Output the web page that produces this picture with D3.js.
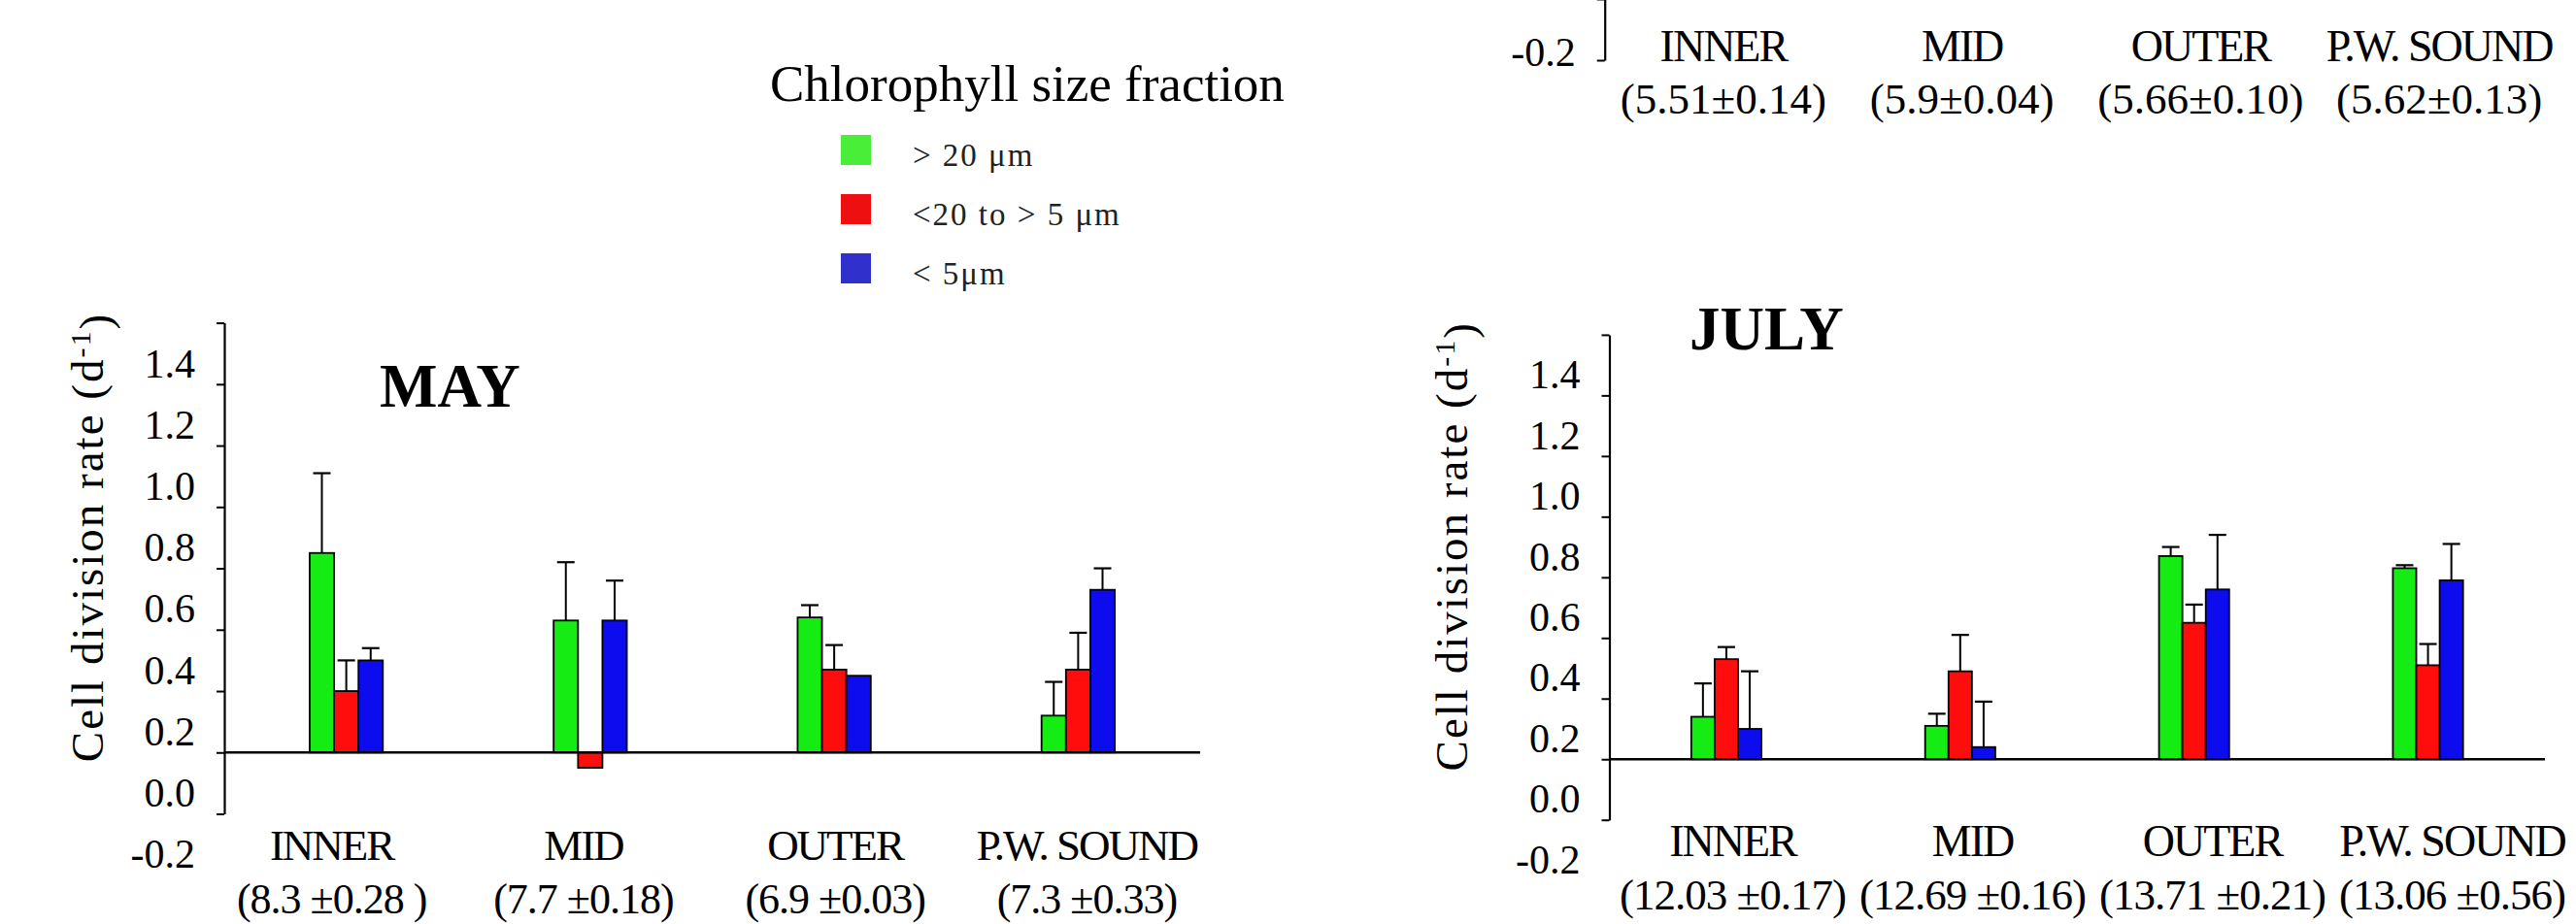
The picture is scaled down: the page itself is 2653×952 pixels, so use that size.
<!DOCTYPE html>
<html>
<head>
<meta charset="utf-8">
<script src="https://cdn.jsdelivr.net/npm/d3@7"></script>
<style>
  body { margin: 0; background: #fff; }
  svg { display: block; }
  text { font-family: "Liberation Serif", "Times New Roman", serif; fill: #000; }
</style>
</head>
<body>
<div id="chart"></div>
<script>
// ---- data ----
const stations = ["INNER", "MID", "OUTER", "P.W. SOUND"];
const fractions = ["> 20 μm", "<20 to > 5 μm", "< 5μm"];
const yTickLabels = [1.4, 1.2, 1.0, 0.8, 0.6, 0.4, 0.2, 0.0, -0.2];
const baselineValue = 0.2;

// cell division rate per station, [>20, 20-5, <5]
const mayRate = [[0.85, 0.40, 0.50], [0.63, 0.15, 0.63], [0.64, 0.47, 0.45], [0.32, 0.47, 0.73]];
const mayErr  = [[0.26, 0.10, 0.04], [0.19, null, 0.13], [0.04, 0.08, null], [0.11, 0.12, 0.07]];
const mayTemp = ["(8.3 ±0.28 )", "(7.7 ±0.18)", "(6.9 ±0.03)", "(7.3 ±0.33)"];

const julyRate = [[0.34, 0.53, 0.30], [0.31, 0.49, 0.24], [0.87, 0.65, 0.76], [0.83, 0.51, 0.79]];
const julyErr  = [[0.11, 0.04, 0.19], [0.04, 0.12, 0.15], [0.03, 0.06, 0.18], [0.01, 0.07, 0.12]];
const julyTemp = ["(12.03 ±0.17)", "(12.69 ±0.16)", "(13.71 ±0.21)", "(13.06 ±0.56)"];

// panel cut off at the top of the figure, only its bottom labels show
const juneTemp = ["(5.51±0.14)", "(5.9±0.04)", "(5.66±0.10)", "(5.62±0.13)"];

// ---- styles ----
const barColors = ["#14ec14", "#ff0c0c", "#0c0cee"];
const legendColors = ["#48ee38", "#ee1010", "#3030cc"];

const W = 2653, H = 952;

const svg = d3.select("#chart").append("svg")
  .attr("width", W)
  .attr("height", H);

svg.append("rect").attr("width", W).attr("height", H).attr("fill", "#fff");

const panels = [
  { title: "MAY", rate: mayRate, err: mayErr, temp: mayTemp,
    xRange: [231, 1236], labelRange: [212, 1249],
    yDomain: [0, 1.6], yRange: [838.5, 332.6], labelDy: -22,
    titleX: 391, titleY: 419, yTitleX: 90, row1: 886, row2: 941, rowSize: [45, 44], row1Spacing: -2, row2Spacing: -1 },
  { title: "JULY", rate: julyRate, err: julyErr, temp: julyTemp,
    xRange: [1657.5, 2621], labelRange: [1661, 2649],
    yDomain: [0, 1.6], yRange: [844.7, 344.9], labelDy: -22,
    titleX: 1740, titleY: 360, yTitleX: 1495, row1: 882, row2: 937, rowSize: [46, 45], row1Spacing: -2, row2Spacing: -1 },
  { title: null, rate: null, err: null, temp: juneTemp,
    xRange: [1652.7, 2640], labelRange: [1652, 2635],
    yDomain: [-0.2, 1.6], yRange: [62, 62 - 9 * 63], labelDy: -9,
    row1: 63, row2: 117, rowSize: [46, 45], row1Spacing: -2, row2Spacing: 0 }
];

panels.forEach(p => {
  const g = svg.append("g");

  const x = d3.scaleBand().domain(stations).range(p.xRange);
  const xl = d3.scaleBand().domain(stations).range(p.labelRange);
  const y = d3.scaleLinear().domain(p.yDomain).range(p.yRange);
  const groupW = x.bandwidth() * 0.3;
  const x1 = d3.scaleBand().domain(fractions).range([-groupW / 2, groupW / 2]);

  // y axis: line with ticks every 0.2, labels drawn separately
  const tickVals = d3.range(Math.round(p.yDomain[0] * 5), Math.round(p.yDomain[1] * 5) + 1).map(k => k / 5);
  g.append("g")
    .attr("transform", `translate(${p.xRange[0]},0)`)
    .call(d3.axisLeft(y).tickValues(tickVals).tickSize(8).tickSizeOuter(0).tickFormat(""))
    .call(a => a.select(".domain").attr("stroke", "#000").attr("stroke-width", 2.2))
    .call(a => a.selectAll(".tick line").attr("stroke", "#000").attr("stroke-width", 2));

  // the labels sit a little above their ticks, as in the original
  g.selectAll(".ylab")
    .data(yTickLabels.filter(v => y(v) + p.labelDy > 30))
    .join("text")
    .attr("x", p.xRange[0] - 30)
    .attr("y", d => y(d) + p.labelDy)
    .attr("dy", "0.35em")
    .attr("text-anchor", "end")
    .style("font-size", "42px")
    .text(d => d.toFixed(1));

  // category labels, two rows
  g.selectAll(".row1")
    .data(stations)
    .join("text")
    .attr("x", d => xl(d) + xl.bandwidth() / 2)
    .attr("y", p.row1)
    .attr("text-anchor", "middle")
    .style("font-size", p.rowSize[0] + "px")
    .style("letter-spacing", p.row1Spacing + "px")
    .text(d => d);

  g.selectAll(".row2")
    .data(p.temp)
    .join("text")
    .attr("x", (d, i) => xl(stations[i]) + xl.bandwidth() / 2)
    .attr("y", p.row2)
    .attr("text-anchor", "middle")
    .style("font-size", p.rowSize[1] + "px")
    .style("letter-spacing", p.row2Spacing + "px")
    .text(d => d);

  if (!p.rate) return;

  const y0 = y(baselineValue);

  const bars = [];
  stations.forEach((s, i) => fractions.forEach((f, j) => {
    bars.push({ station: s, fraction: f, k: j, v: p.rate[i][j], e: p.err[i][j] });
  }));

  g.selectAll(".bar")
    .data(bars)
    .join("rect")
    .attr("x", d => x(d.station) + x.bandwidth() / 2 + x1(d.fraction))
    .attr("y", d => Math.min(y(d.v), y0))
    .attr("width", x1.bandwidth())
    .attr("height", d => Math.abs(y(d.v) - y0))
    .attr("fill", d => barColors[d.k])
    .attr("stroke", "#000")
    .attr("stroke-width", 1.8);

  const errs = bars.filter(d => d.e != null);
  const cx = d => x(d.station) + x.bandwidth() / 2 + x1(d.fraction) + x1.bandwidth() / 2;

  g.selectAll(".err")
    .data(errs)
    .join("line")
    .attr("x1", cx).attr("x2", cx)
    .attr("y1", d => y(d.v))
    .attr("y2", d => y(d.v + d.e))
    .attr("stroke", "#000")
    .attr("stroke-width", 2);

  g.selectAll(".cap")
    .data(errs)
    .join("line")
    .attr("x1", d => cx(d) - 9).attr("x2", d => cx(d) + 9)
    .attr("y1", d => y(d.v + d.e))
    .attr("y2", d => y(d.v + d.e))
    .attr("stroke", "#000")
    .attr("stroke-width", 2.2);

  // reference line the bars stand on
  g.append("line")
    .attr("x1", p.xRange[0]).attr("x2", p.xRange[1])
    .attr("y1", y0).attr("y2", y0)
    .attr("stroke", "#000")
    .attr("stroke-width", 2.5);

  g.append("text")
    .attr("x", p.titleX)
    .attr("y", p.titleY)
    .style("font-size", "63px")
    .style("font-weight", "bold")
    .text(p.title);

  const yt = g.append("text")
    .attr("transform", `translate(${p.yTitleX},${(p.yRange[0] + p.yRange[1]) / 2 - 32}) rotate(-90)`)
    .attr("text-anchor", "middle")
    .attr("dy", "0.35em")
    .style("font-size", "47px")
    .style("letter-spacing", "2px");
  yt.append("tspan").text("Cell division rate (d");
  yt.append("tspan").attr("dy", "-0.45em").style("font-size", "30px").text("-1");
  yt.append("tspan").attr("dy", "0.45em").text(")");
});

// ---- legend ----
const legend = svg.append("g");

legend.append("text")
  .attr("x", 793)
  .attr("y", 104)
  .style("font-size", "53px")
  .text("Chlorophyll size fraction");

const ly = d3.scalePoint().domain(fractions).range([139, 261]);

legend.selectAll(".sw")
  .data(fractions)
  .join("rect")
  .attr("x", 866)
  .attr("y", d => ly(d))
  .attr("width", 31)
  .attr("height", 31)
  .attr("fill", (d, i) => legendColors[i]);

legend.selectAll(".lt")
  .data(fractions)
  .join("text")
  .attr("x", 940)
  .attr("y", d => ly(d) + 32)
  .style("font-size", "33px")
  .style("letter-spacing", "2px")
  .style("fill", "#222")
  .text(d => d);
</script>
</body>
</html>
